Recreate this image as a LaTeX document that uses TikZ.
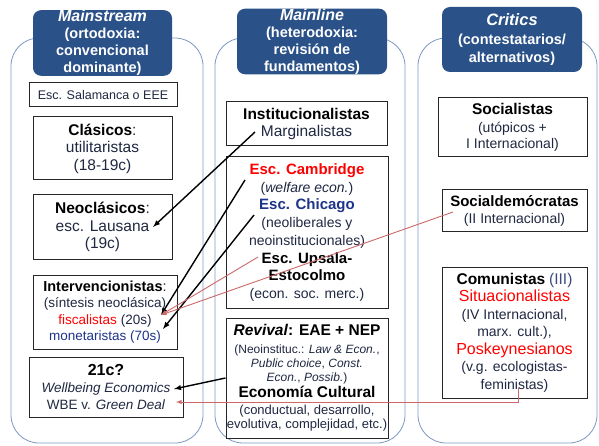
\documentclass[tikz,border=0pt]{standalone}
\usepackage{fontspec}
\setmainfont{Liberation Sans}
\usepackage{tikz}
\usetikzlibrary{arrows}

\definecolor{hdblue}{RGB}{42,81,136}
\definecolor{panelc}{RGB}{125,153,194}
\definecolor{txt}{RGB}{32,40,66}
\definecolor{chic}{RGB}{30,52,138}
\definecolor{tercera}{RGB}{62,74,124}
\definecolor{rojo}{RGB}{255,0,0}
\definecolor{redline}{RGB}{204,104,104}

\newcommand{\escuela}[1]{\textbf{\color{black}#1}}
\newcommand{\fs}[2]{\fontsize{#1}{#2}\selectfont}

\tikzset{
	panel/.style={draw=panelc,line width=0.8pt,rounded corners=28pt},
	head/.style={fill=hdblue,rounded corners=8pt,text=white,align=center,inner sep=0pt,font=\bfseries\fs{14.5}{17}},
	school/.style={draw=black!85,fill=white,line width=1pt,align=center,inner sep=0pt,text=txt,font=\fs{15.5}{17.5}},
	infl/.style={-latex,line width=1.4pt},
	crit/.style={-latex,draw=redline,line width=0.9pt},
}

\begin{document}
\begin{tikzpicture}[x=1pt,y=-1pt]
		\useasboundingbox[fill=white] (0,0) rectangle (599,446);
		\foreach \a/\b in {11/203,215/405,418/597} {
		\draw[panel] (\a,38) rectangle (\b,443);
		}
		
		\node[head,minimum width=139pt,minimum height=64pt] (mainstream) at (102.5,43) {{\itshape\fs{16}{17}Mainstream}\\(ortodoxia:\\convencional\\dominante)};
		\node[head,minimum width=150pt,minimum height=63pt] (mainline) at (312,41.5) {{\itshape\fs{16}{17}Mainline}\\(heterodoxia:\\revisión de\\fundamentos)};
		\node[head,minimum width=140pt,minimum height=65pt] (critics) at (512,39.5) {{\itshape\fs{16.5}{17}Critics}\\[2pt](contestatarios/\\[1pt]alternativos)};
		
		\node[school,minimum width=148pt,minimum height=24pt,font=\fs{12.5}{14}] (salamanca) at (103,95) {Esc. Salamanca o EEE};
		\node[school,minimum width=139pt,minimum height=63pt] (clasicos) at (102.5,148.5) {\escuela{Clásicos}:\\utilitaristas\\(18-19c)};
		\node[school,minimum width=139pt,minimum height=64pt] (neoclasicos) at (102.5,227) {\escuela{Neoclásicos}:\\esc. Lausana\\(19c)};
		\node[school,minimum width=144pt,minimum height=74pt,font=\fs{13.5}{16.5}] (interv) at (105,312) {{\fs{14.5}{16.5}\escuela{Intervencionistas}:}\\(síntesis neoclásica)\\{\color{rojo}fiscalistas} (20s)\\{\color{chic}monetaristas (70s)}};
		\node[school,minimum width=154pt,minimum height=60pt,font=\fs{13.5}{17}] (xxi) at (106,387) {{\fs{16}{17}\escuela{21c?}}\\\textit{Wellbeing Economics}\\WBE v. \textit{Green Deal}};
		
		\node[school,minimum width=161pt,minimum height=44pt] (inst) at (306.5,124) {\escuela{Institucionalistas}\\Marginalistas};
		\node[school,minimum width=162pt,minimum height=151pt,font=\fs{14}{17.7}] (cambridge) at (307,232.5) {{\fs{15}{17}\bfseries\color{rojo}Esc. Cambridge}\\(\textit{welfare econ.})\\{\fs{15}{17}\bfseries\color{chic}Esc. Chicago}\\(neoliberales y\\neoinstitucionales)\\{\fs{15}{17}\escuela{Esc. Upsala-}}\\{\fs{15}{17}\escuela{Estocolmo}}\\(econ. soc. merc.)};
		\node[school,minimum width=162pt,minimum height=120pt,font=\fs{12}{14}] (revival) at (307,378) {{\fs{15.5}{17}\escuela{\textit{Revival}: EAE + NEP}}\\[4pt](Neoinstituc.: \textit{Law \& Econ.},\\\textit{Public choice}, \textit{Const.}\\\textit{Econ.}, \textit{Possib.})\\[2pt]{\fs{15.5}{17}\escuela{Economía Cultural}}\\[3pt]{\fs{13}{14}(conductual, desarrollo,}\\{\fs{13}{14}evolutiva, complejidad, etc.)}};
		
		\node[school,minimum width=149pt,minimum height=59pt,font=\fs{14}{16}] (socialistas) at (512.5,127.5) {{\fs{15.5}{17}\escuela{Socialistas}}\\[2pt](utópicos +\\I Internacional)};
		\node[school,minimum width=145pt,minimum height=42pt,font=\fs{14}{17}] (socialdem) at (514.5,211) {{\fs{15}{17}\escuela{Socialdemócratas}}\\(II Internacional)};
		\node[school,minimum width=145pt,minimum height=131pt,font=\fs{14}{17.5}] (comunistas) at (514.5,332.5) {{\fs{15.5}{17}\escuela{Comunistas}} {\fs{15.5}{17}\color{tercera}(III)}\\{\fs{16}{17}\color{rojo}Situacionalistas}\\(IV Internacional,\\marx. cult.),\\{\fs{16}{17}\color{rojo}Poskeynesianos}\\(v.g. ecologistas-\\feministas)};
		
		\coordinate (pMarg) at (255,132);
		\coordinate (pLaus) at (153,227);
		\coordinate (pCamb) at (245,180);
		\coordinate (pFisc) at (161,315);
		\coordinate (pChic) at (254,215);
		\coordinate (pMonet) at (163,329);
		\coordinate (pUpsala) at (258,257);
		\coordinate (pSocdem) at (453,212);
		\coordinate (pWell) at (174,389);
		\coordinate (pCom) at (518,388);
		\coordinate (pGreen) at (176,402);
		
		\draw[infl] (pMarg) -- (pLaus);
		\draw[infl] (pCamb) -- (pFisc);
		\draw[infl] (pChic) -- (pMonet);
		\draw[infl] (revival.west) -- (pWell);
		\draw[crit] (pUpsala) -- (pFisc);
		\draw[crit] (pSocdem) -- (pFisc);
		\draw[crit] (pCom) |- (pGreen);
	\end{tikzpicture}
\end{document}
